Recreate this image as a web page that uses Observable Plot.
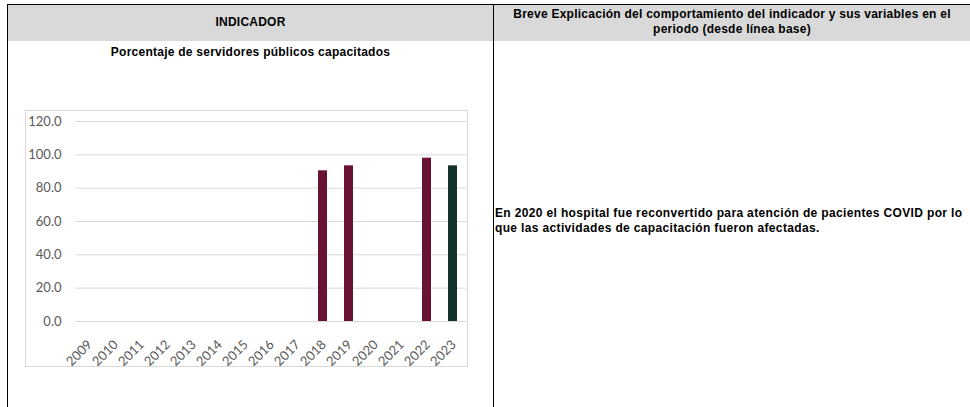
<!DOCTYPE html>
<html>
<head>
<meta charset="utf-8">
<script src="https://cdn.jsdelivr.net/npm/d3@7"></script>
<script src="https://cdn.jsdelivr.net/npm/@observablehq/plot@0.6"></script>
<style>
  html, body { margin: 0; padding: 0; background: #fff; }
  body { width: 970px; height: 407px; position: relative; overflow: hidden; font-family: "Liberation Sans", Arial, sans-serif; }
  .abs { position: absolute; }
  .hdr { background: #d9d9d9; }
  .b { font-weight: bold; color: #000; font-size: 12px; letter-spacing: 0.25px; white-space: nowrap; }
  #chartbox { position: absolute; left: 25px; top: 110px; width: 441px; height: 255px; border: 1px solid #d9d9d9; box-sizing: content-box; }
  #chartbox svg { position: absolute; left: 0; top: 0; }
</style>
</head>
<body>
<div class="abs hdr" style="left:7px;top:5px;width:963px;height:36px;"></div>
<div class="abs" style="left:7px;top:4px;width:963px;height:1px;background:#000;"></div>
<div class="abs" style="left:7px;top:4px;width:1px;height:403px;background:#000;"></div>
<div class="abs" style="left:493px;top:4px;width:1px;height:403px;background:#000;"></div>

<div class="abs b" id="h1" style="left:7px;width:487px;top:15px;text-align:center;line-height:14px;"></div>
<div class="abs b" id="h2" style="left:494px;width:476px;top:7px;text-align:center;line-height:15px;"></div>
<div class="abs b" id="title" style="left:7px;width:487px;top:45px;text-align:center;line-height:14px;"></div>
<div class="abs b" id="note" style="left:495px;width:475px;top:206px;text-align:left;line-height:15px;letter-spacing:0.35px;"></div>

<div id="chartbox"></div>

<script>
const headerLeft = "INDICADOR";
const headerRight = ["Breve Explicación del comportamiento del indicador y sus variables en el", "periodo (desde línea base)"];
const chartTitle = "Porcentaje de servidores públicos capacitados";
const noteLines = ["En 2020 el hospital fue reconvertido para atención de pacientes COVID por lo", "que las actividades de capacitación fueron afectadas."];

const years = ["2009","2010","2011","2012","2013","2014","2015","2016","2017","2018","2019","2020","2021","2022","2023"];
const values = [null,null,null,null,null,null,null,null,null,90.4,93.4,null,null,98.0,93.4];
const yTicks = [0, 20, 40, 60, 80, 100, 120];
const highlightYear = "2023";

const maroon = "#691236";
const green = "#13322b";

document.getElementById("h1").textContent = headerLeft;
document.getElementById("h2").innerHTML = headerRight.join("<br>");
document.getElementById("title").textContent = chartTitle;
document.getElementById("note").innerHTML = noteLines.join("<br>");

const data = years.map((y, i) => ({year: y, value: values[i]})).filter(d => d.value != null);

const chart = Plot.plot({
  width: 441,
  height: 255,
  marginLeft: 49,
  marginRight: 1,
  marginTop: 10,
  marginBottom: 45,
  style: {fontFamily: "Lato, 'Open Sans', sans-serif", color: "#595959", background: "transparent", overflow: "visible"},
  x: {domain: years, paddingInner: 0.67, paddingOuter: 0.335, label: null},
  y: {domain: [0, 120], label: null},
  marks: [
    Plot.gridY(yTicks, {stroke: "#d9d9d9", strokeOpacity: 1, strokeWidth: 1}),
    Plot.barY(data, {x: "year", y: "value", fill: d => d.year === highlightYear ? green : maroon}),
    Plot.axisY(yTicks, {tickSize: 0, tickPadding: 14, tickFormat: d => d.toFixed(1), fontSize: 13, fill: "#595959"}),
    Plot.axisX({tickSize: 0, tickPadding: 12, tickRotate: -45, fontSize: 13, fill: "#595959", dx: 1, dy: 9})
  ]
});
document.getElementById("chartbox").appendChild(chart);
</script>
</body>
</html>
